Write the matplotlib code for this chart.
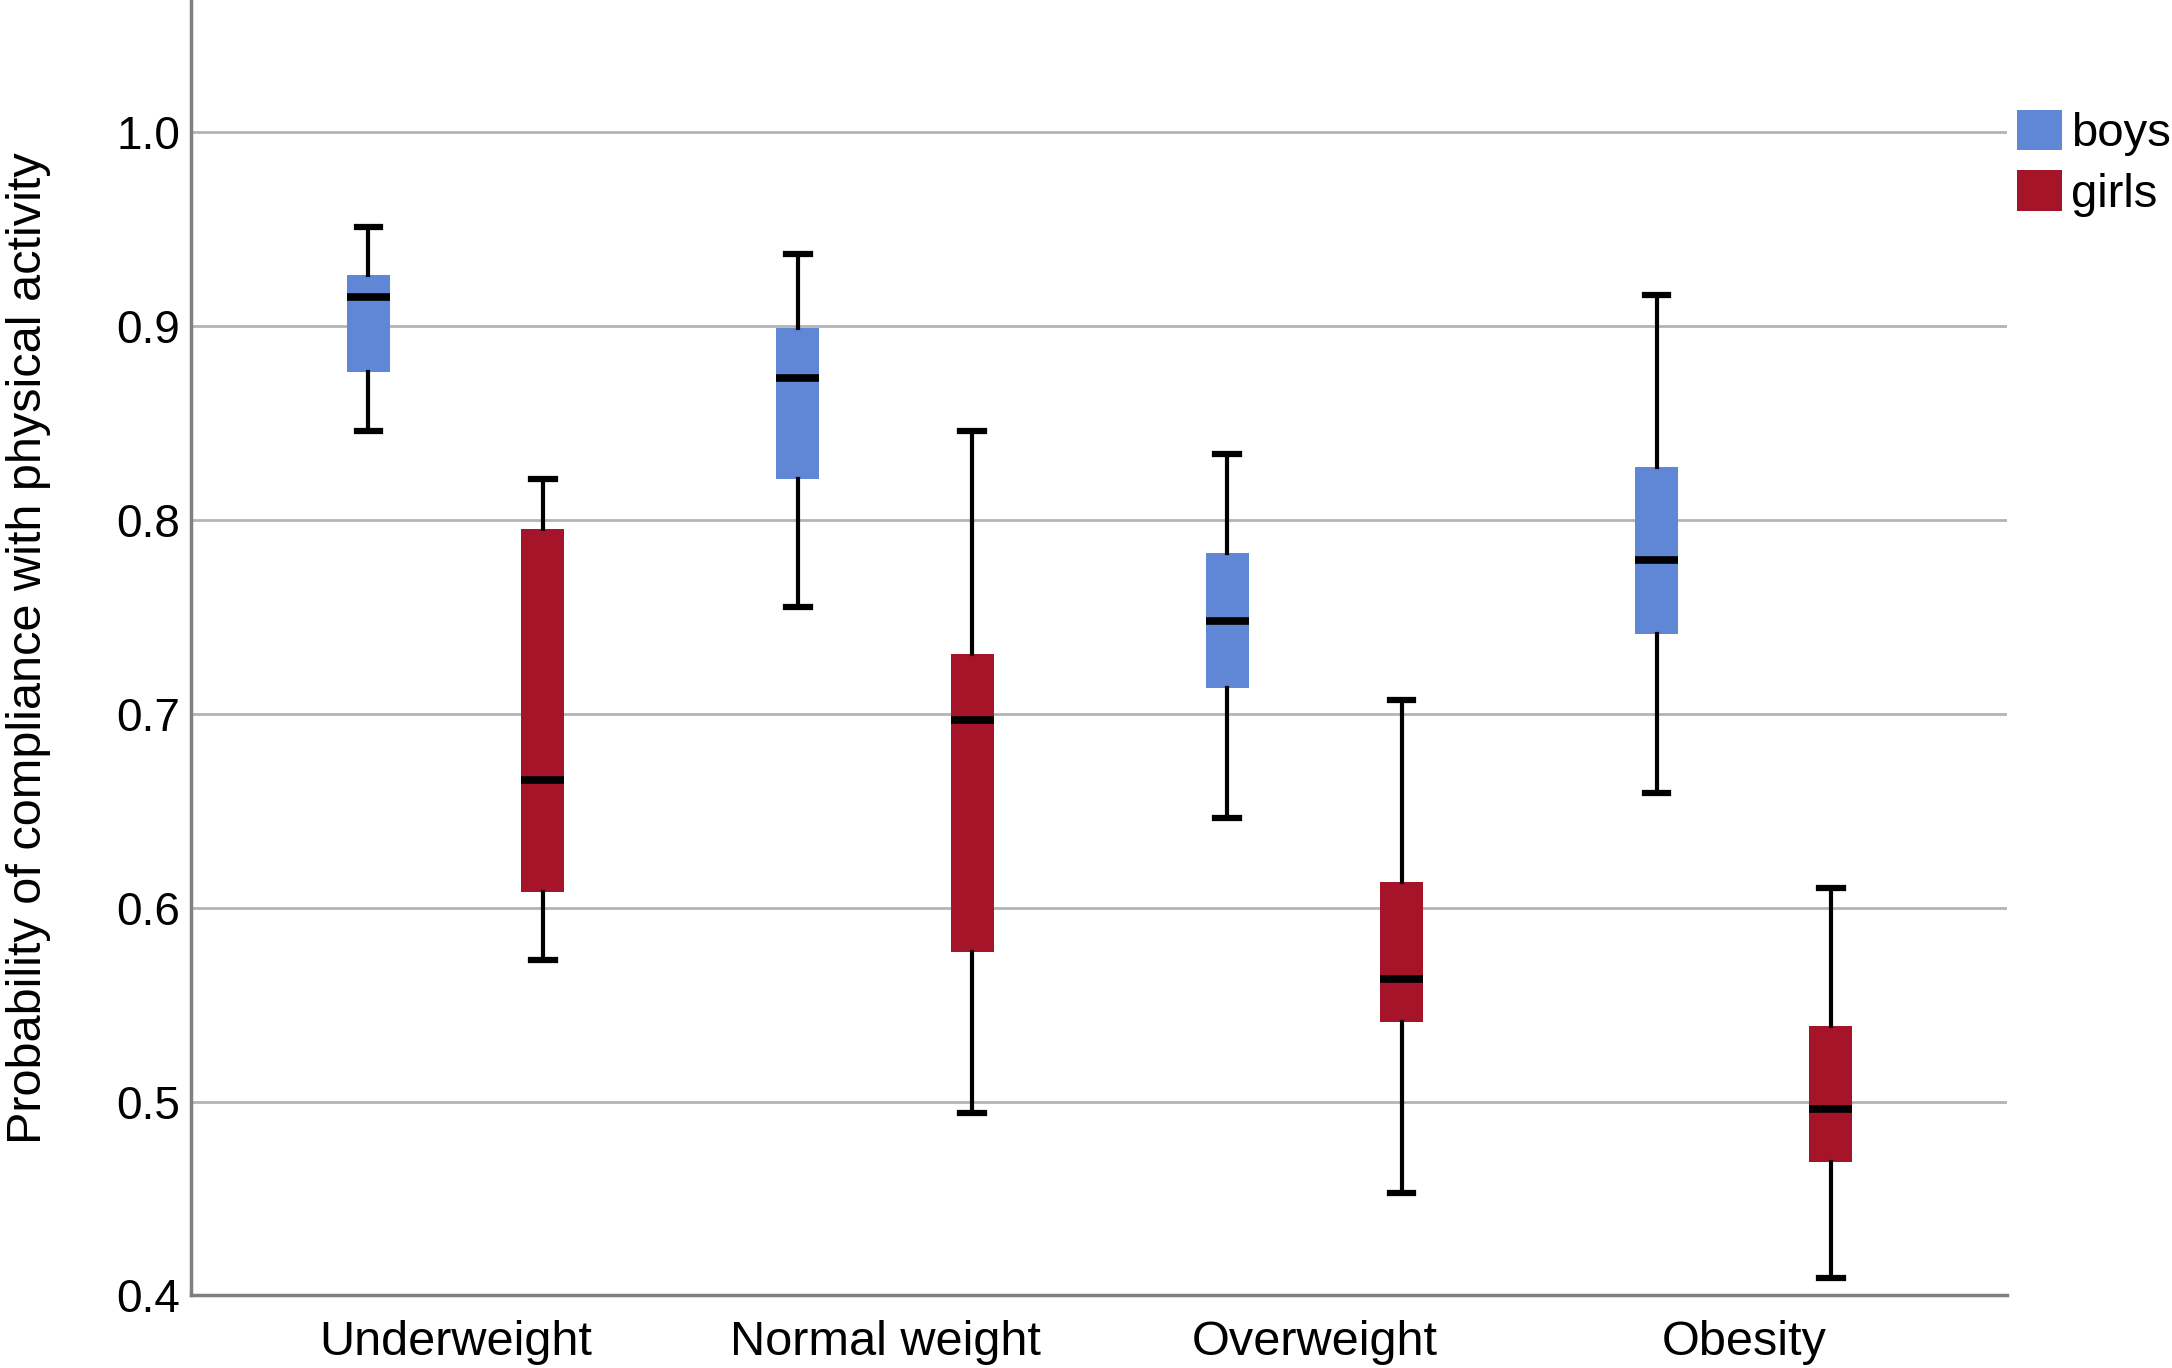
import matplotlib.pyplot as plt
from matplotlib.patches import Patch

plt.rcParams['font.family'] = ['Liberation Sans', 'DejaVu Sans']

categories = ['Underweight', 'Normal weight', 'Overweight', 'Obesity']
groups = ['boys', 'girls']

# whisker low, Q1, median, Q3, whisker high
boys_low = [0.846, 0.755, 0.646, 0.659]
boys_q1 = [0.876, 0.821, 0.713, 0.741]
boys_med = [0.915, 0.873, 0.748, 0.779]
boys_q3 = [0.926, 0.899, 0.783, 0.827]
boys_high = [0.951, 0.937, 0.834, 0.916]

girls_low = [0.573, 0.494, 0.453, 0.409]
girls_q1 = [0.608, 0.577, 0.541, 0.469]
girls_med = [0.666, 0.697, 0.563, 0.496]
girls_q3 = [0.795, 0.731, 0.613, 0.539]
girls_high = [0.821, 0.846, 0.707, 0.610]

colors = {'boys': '#5f87d6', 'girls': '#a6142a'}

def make_stats(low, q1, med, q3, high):
    return [dict(whislo=a, q1=b, med=c, q3=d, whishi=e, fliers=[])
            for a, b, c, d, e in zip(low, q1, med, q3, high)]

series = {
    'boys': make_stats(boys_low, boys_q1, boys_med, boys_q3, boys_high),
    'girls': make_stats(girls_low, girls_q1, girls_med, girls_q3, girls_high),
}

fig = plt.figure(figsize=(21.72, 13.68), dpi=100)
ax = fig.add_axes([0.088, 0.053, 0.836, 0.947])

offsets = {'boys': -0.203, 'girls': 0.203}
for g in groups:
    pos = [i + offsets[g] for i in range(len(categories))]
    ax.bxp(series[g], positions=pos, widths=0.1, patch_artist=True,
           showfliers=False, capwidths=0.055,
           boxprops=dict(facecolor=colors[g], edgecolor=colors[g], linewidth=0),
           medianprops=dict(color='black', linewidth=5.5),
           whiskerprops=dict(color='black', linewidth=3),
           capprops=dict(color='black', linewidth=4.5),
           zorder=3)

ax.set_xlim(-0.616, 3.613)
ax.set_ylim(0.4, 1.068)
ax.set_xticks(range(len(categories)))
ax.set_xticklabels(categories, fontsize=35)
ax.set_yticks([0.4, 0.5, 0.6, 0.7, 0.8, 0.9, 1.0])
ax.set_yticklabels(['0.4', '0.5', '0.6', '0.7', '0.8', '0.9', '1.0'], fontsize=33)
ax.tick_params(axis='y', length=0, pad=8)
ax.tick_params(axis='x', length=0, pad=18)
ax.yaxis.grid(True, color='#b4b4b4', linewidth=2, zorder=0)
ax.set_axisbelow(True)

for s in ['top', 'right']:
    ax.spines[s].set_visible(False)
for s in ['left', 'bottom']:
    ax.spines[s].set_color('#7f7f7f')
    ax.spines[s].set_linewidth(2.5)

ax.set_ylabel('Probability of compliance with physical activity', fontsize=35)
ax.yaxis.set_label_coords(-0.077, 0.5)

handles = [Patch(facecolor=colors[g], edgecolor='none', label=g) for g in groups]
ax.legend(handles=handles, loc='upper left', bbox_to_anchor=(0.995, 0.93),
          frameon=False, fontsize=34, handlelength=0.95, handleheight=0.95,
          handletextpad=0.2, labelspacing=0.3, borderaxespad=0)

fig.savefig('out.png', dpi=100)
